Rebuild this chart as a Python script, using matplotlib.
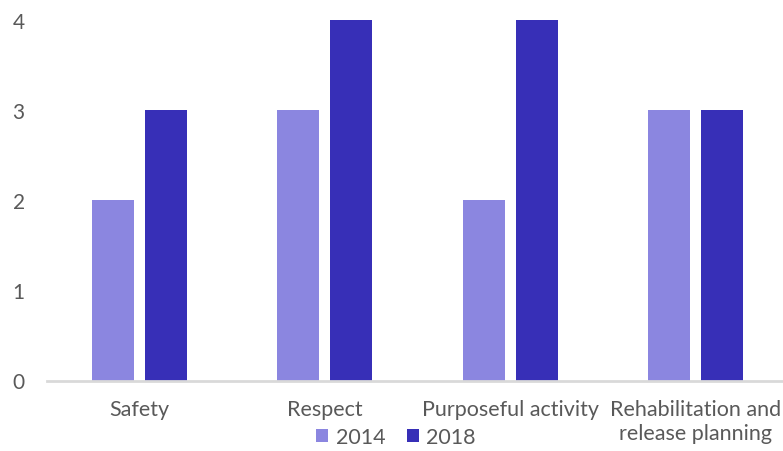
import numpy as np
import matplotlib.pyplot as plt

# data
categories = ['Safety', 'Respect', 'Purposeful activity', 'Rehabilitation and\nrelease planning']
scores_2014 = [2, 3, 2, 3]
scores_2018 = [3, 4, 4, 3]
col_2014 = '#8B86E0'
col_2018 = '#372FB7'
txt = '#595959'

plt.rcParams['font.family'] = ['Lato', 'DejaVu Sans']

fig = plt.figure(figsize=(7.83, 4.52), dpi=100)
W, H = 783, 452
step = 185.3
left = 47
ax = fig.add_axes([left / W, 1 - 381.5 / H, (W - left) / W, (381.5 - 20.7) / H])

x = np.arange(len(categories))
bw = 42 / step
off = 26.5 / step
ax.bar(x - off, scores_2014, bw, color=col_2014, label='2014', zorder=2)
ax.bar(x + off, scores_2018, bw, color=col_2018, label='2018', zorder=2)

ax.set_xlim(-0.5, -0.5 + (W - left) / step)
ax.set_ylim(0, 4)
ax.set_yticks([0, 1, 2, 3, 4])
ax.set_xticks(x)
ax.set_xticklabels(categories, fontsize=15.5, color=txt, linespacing=1.3)
ax.tick_params(axis='y', labelsize=15, labelcolor=txt, length=0, pad=16)
ax.tick_params(axis='x', length=0, pad=13)
for s in ['top', 'right', 'left']:
    ax.spines[s].set_visible(False)
ax.spines['bottom'].set_color('#D9D9D9')
ax.spines['bottom'].set_linewidth(2)
ax.spines['bottom'].set_zorder(3)

fig.legend(loc='center', bbox_to_anchor=(396 / W, 1 - 438 / H), ncol=2, frameon=False,
           fontsize=15.5, labelcolor=txt, handlelength=0.55, handleheight=0.55,
           handletextpad=0.35, columnspacing=1.0, borderaxespad=0)

fig.savefig('out.png', dpi=100)
